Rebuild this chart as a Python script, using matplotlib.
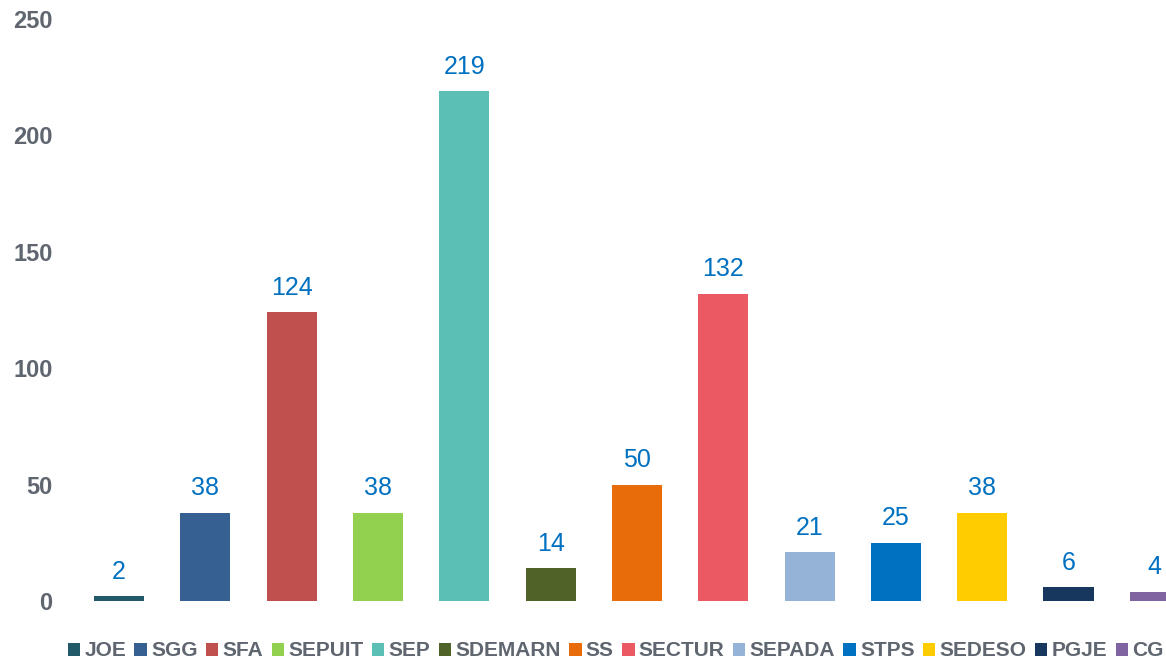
import matplotlib.pyplot as plt

# categories and counts
labels = ['JOE', 'SGG', 'SFA', 'SEPUIT', 'SEP', 'SDEMARN', 'SS', 'SECTUR',
          'SEPADA', 'STPS', 'SEDESO', 'PGJE', 'CG']
values = [2, 38, 124, 38, 219, 14, 50, 132, 21, 25, 38, 6, 4]
colors = ['#215968', '#366092', '#C0504D', '#92D050', '#5BBFB5', '#4F6228',
          '#E96C0A', '#EB5A62', '#95B3D7', '#0070C0', '#FFCC00', '#17375E', '#8064A2']
yticks = [0, 50, 100, 150, 200, 250]

plt.rcParams['font.family'] = ['Liberation Sans', 'DejaVu Sans']
grey = '#5F6670'

fig = plt.figure(figsize=(11.66, 6.62), dpi=100)
ax = fig.add_axes([76/1166, 1-601/662, 1-76/1166, (601-19)/662])

x = range(len(labels))
bars = ax.bar(x, values, width=0.58, color=colors, label=labels)
for xi, v in zip(x, values):
    ax.annotate(str(v), (xi, v), xytext=(0, 9), textcoords='offset points',
                ha='center', va='bottom', fontsize=18, color='#0070C0')

ax.set_ylim(0, 250)
ax.set_xlim(-0.5, 12.13)
ax.set_yticks(yticks)
ax.set_xticks([])
ax.tick_params(axis='y', length=0, pad=17, labelsize=17, labelcolor=grey)
for t in ax.get_yticklabels():
    t.set_fontweight('bold')
for s in ax.spines.values():
    s.set_visible(False)

leg = fig.legend(bars, labels, loc='center', bbox_to_anchor=(0.528, 1-651/662),
                 ncol=13, frameon=False, handlelength=0.6, handleheight=0.6,
                 handletextpad=0.2, columnspacing=0.4, borderpad=0.2,
                 prop={'size': 15, 'weight': 'bold'})
for t in leg.get_texts():
    t.set_color(grey)

fig.savefig('out.png', dpi=100)
